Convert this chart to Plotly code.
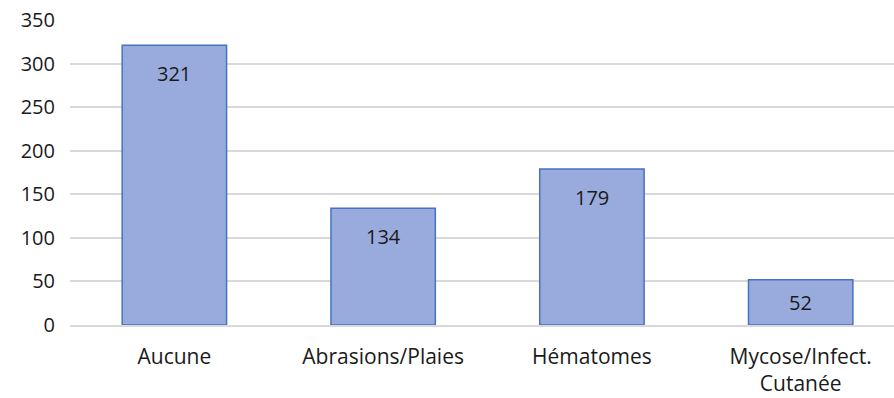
import plotly.graph_objects as go

categories = ["Aucune", "Abrasions/Plaies", "Hématomes", "Mycose/Infect.<br>Cutanée"]
counts = [321, 134, 179, 52]
y_ticks = [0, 50, 100, 150, 200, 250, 300, 350]

FONT = "'Open Sans', sans-serif"
INK = "#1a1a1a"
Y_MAX = 350
PLOT_H = 305  # px height of the plotting area

fig = go.Figure()
fig.add_trace(
    go.Bar(
        x=categories, y=counts,
        marker=dict(color="#99abdd", line=dict(color="#4472c4", width=1.5)),
        width=0.5, hoverinfo="skip", showlegend=False,
    )
)

# value labels sit just inside the top of each bar; short bars get them centred
for cat, val in zip(categories, counts):
    bar_px = val / Y_MAX * PLOT_H
    if bar_px > 60:
        y, shift = val, -28
    else:
        y, shift = val / 2, 0
    fig.add_annotation(
        x=cat, y=y, text=str(val), showarrow=False, yshift=shift,
        font=dict(family=FONT, size=20, color=INK),
    )

# the original chart is cropped on the right, so the last band runs off the edge
fig.update_xaxes(
    range=[-0.5, 3.447], showgrid=False, showline=True, linecolor="#d9d9d9", linewidth=1.5,
    ticks="", ticklabelstandoff=12, automargin=False,
    tickfont=dict(family=FONT, size=21, color=INK),
)
fig.update_yaxes(
    range=[0, Y_MAX], tickvals=y_ticks, showgrid=True, gridcolor="#d9d9d9",
    gridwidth=1.5, zeroline=False, ticks="", ticklabelstandoff=14, automargin=False,
    tickfont=dict(family=FONT, size=20, color=INK),
)
fig.update_layout(
    width=894, height=398,
    paper_bgcolor="white", plot_bgcolor="white",
    margin=dict(l=70, r=0, t=20, b=73),
)
fig.write_html(
    "out.html",
    config={"displayModeBar": False},
    post_script="document.body.style.margin='0';document.body.style.overflow='hidden';",
)
